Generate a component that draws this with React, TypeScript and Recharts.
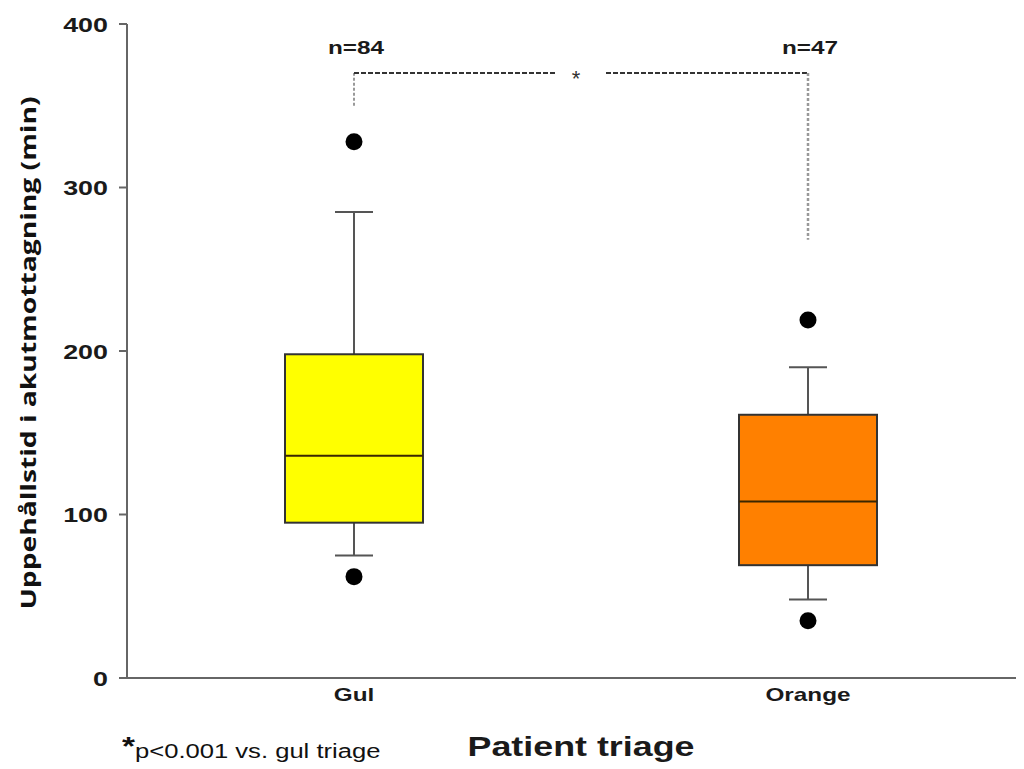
import React from 'react';
import {
  ComposedChart,
  Bar,
  Scatter,
  XAxis,
  YAxis,
  ReferenceLine,
  ReferenceDot,
} from 'recharts';

// box plot values (minutes)
const categories = ['Gul', 'Orange'];
const whiskerLow = [75, 48];
const quartile1 = [95, 69];
const medians = [136, 108];
const quartile3 = [198, 161];
const whiskerHigh = [285, 190];
const outlierHigh = [328, 219];
const outlierLow = [62, 35];
const sampleSizes = ['n=84', 'n=47'];
const boxColors = ['#ffff00', '#ff8000'];
const yTicks = [0, 100, 200, 300, 400];

const data = categories.map((name, i) => ({
  name,
  box: [quartile1[i], quartile3[i]],
  q1: quartile1[i],
  q3: quartile3[i],
  median: medians[i],
  low: whiskerLow[i],
  high: whiskerHigh[i],
  outHigh: outlierHigh[i],
  outLow: outlierLow[i],
  n: sampleSizes[i],
  fill: boxColors[i],
}));

const FONT = '"Liberation Sans", Arial, sans-serif';
// the source figure is slightly stretched sideways, so text gets a horizontal scale
const SX = 1.28;

function WideText({ x, y, anchor = 'middle', size, weight = 'bold', dy = '0', children }: any) {
  return (
    <text
      transform={`translate(${x} ${y}) scale(${SX} 1)`}
      textAnchor={anchor}
      dy={dy}
      fontSize={size}
      fontWeight={weight}
      fontFamily={FONT}
      fill="#1a1a1a"
    >
      {children}
    </text>
  );
}

function BoxShape(props: any) {
  const { x, y, width, height, payload } = props;
  const ppu = height / (payload.q3 - payload.q1);
  const toY = (v: number) => y + (payload.q3 - v) * ppu;
  const cx = x + width / 2;
  const cap = 19;
  return (
    <g>
      <line x1={cx} x2={cx} y1={toY(payload.high)} y2={y} stroke="#555" strokeWidth={2} />
      <line x1={cx - cap} x2={cx + cap} y1={toY(payload.high)} y2={toY(payload.high)} stroke="#555" strokeWidth={2} />
      <line x1={cx} x2={cx} y1={y + height} y2={toY(payload.low)} stroke="#555" strokeWidth={2} />
      <line x1={cx - cap} x2={cx + cap} y1={toY(payload.low)} y2={toY(payload.low)} stroke="#555" strokeWidth={2} />
      <rect x={x} y={y} width={width} height={height} fill={payload.fill} stroke="#333" strokeWidth={2} />
      <line x1={x} x2={x + width} y1={toY(payload.median)} y2={toY(payload.median)} stroke="#3a2600" strokeWidth={2} />
    </g>
  );
}

const Dot = (props: any) => <circle cx={props.cx} cy={props.cy} r={8.5} fill="#000" />;

const YTick = (props: any) => (
  <WideText x={props.x - 3} y={props.y} anchor="end" size={21} dy="0.36em">
    {props.payload.value}
  </WideText>
);

const XTick = (props: any) => (
  <WideText x={props.x} y={props.y} size={19} dy="0.71em">
    {props.payload.value}
  </WideText>
);

const StarLabel = (props: any) => {
  const { viewBox } = props;
  const mx = viewBox.x + viewBox.width / 2;
  return (
    <g>
      <rect x={mx - 25} y={viewBox.y - 6} width={48} height={12} fill="#fff" />
      <text x={mx - 5} y={viewBox.y + 13} textAnchor="middle" fontSize={22} fontFamily={FONT} fill="#333">
        *
      </text>
    </g>
  );
};

const nLabel = (text: string) => (props: any) => {
  const { viewBox } = props;
  return (
    <WideText x={viewBox.x + 2} y={viewBox.y} size={19} dy="0.36em">
      {text}
    </WideText>
  );
};

const YLabel = (props: any) => {
  const { viewBox } = props;
  const cx = viewBox.x + 20;
  const cy = viewBox.y + viewBox.height / 2 + 2;
  return (
    <text x={cx} y={cy} transform={`rotate(-90 ${cx} ${cy})`} textAnchor="middle" dominantBaseline="central" fontSize={21} fontWeight="bold" fontFamily='"Open Sans", sans-serif' fill="#111" textLength={513} lengthAdjust="spacingAndGlyphs">
      Uppehållstid i akutmottagning (min)
    </text>
  );
};

const XLabel = (props: any) => {
  const { viewBox } = props;
  return (
    <WideText x={viewBox.x + viewBox.width / 2} y={viewBox.y + 78} size={28}>
      Patient triage
    </WideText>
  );
};

export default function App() {
  return (
    <div style={{ position: 'relative', width: 1016, height: 761, overflow: 'hidden' }}>
      <ComposedChart width={1027} height={761} data={data} margin={{ top: 16, right: 0, bottom: 0, left: 0 }}>
        <XAxis
          dataKey="name"
          height={91}
          tickLine={false}
          axisLine={{ stroke: '#666', strokeWidth: 2 }}
          tickSize={6}
          tickMargin={4}
          tick={<XTick />}
          label={<XLabel />}
        />
        <YAxis
          type="number"
          domain={[0, 400]}
          ticks={yTicks}
          width={119}
          tickSize={8}
          tickMargin={8}
          axisLine={{ stroke: '#666', strokeWidth: 2 }}
          tickLine={{ stroke: '#666', strokeWidth: 2 }}
          tick={<YTick />}
          label={<YLabel />}
        />
        <Bar dataKey="box" barSize={138} shape={<BoxShape />} isAnimationActive={false} />
        <Scatter dataKey="outHigh" shape={<Dot />} isAnimationActive={false} />
        <Scatter dataKey="outLow" shape={<Dot />} isAnimationActive={false} />
        <ReferenceLine
          segment={[{ x: 'Gul', y: 350 }, { x: 'Gul', y: 370 }]}
          stroke="#999"
          strokeWidth={2}
          strokeDasharray="3 2"
        />
        <ReferenceLine
          segment={[{ x: 'Gul', y: 370 }, { x: 'Orange', y: 370 }]}
          stroke="#333"
          strokeWidth={2}
          strokeDasharray="5 2"
          label={<StarLabel />}
        />
        <ReferenceLine
          segment={[{ x: 'Orange', y: 370 }, { x: 'Orange', y: 268 }]}
          stroke="#999"
          strokeWidth={2.5}
          strokeDasharray="3 2"
        />
        {data.map((d) => (
          <ReferenceDot key={d.name} x={d.name} y={386} r={0} fill="none" stroke="none" label={nLabel(d.n)} />
        ))}
      </ComposedChart>
      <div style={{ position: 'absolute', left: 114, top: 723, fontFamily: FONT, color: '#111', whiteSpace: 'nowrap', transform: `scaleX(${SX})`, transformOrigin: 'left top' }}>
        <span style={{ fontSize: 26, fontWeight: 'bold', verticalAlign: 'top' }}>*</span>
        <span style={{ fontSize: 20, position: 'relative', top: 9 }}>p&lt;0.001 vs. gul triage</span>
      </div>
    </div>
  );
}
